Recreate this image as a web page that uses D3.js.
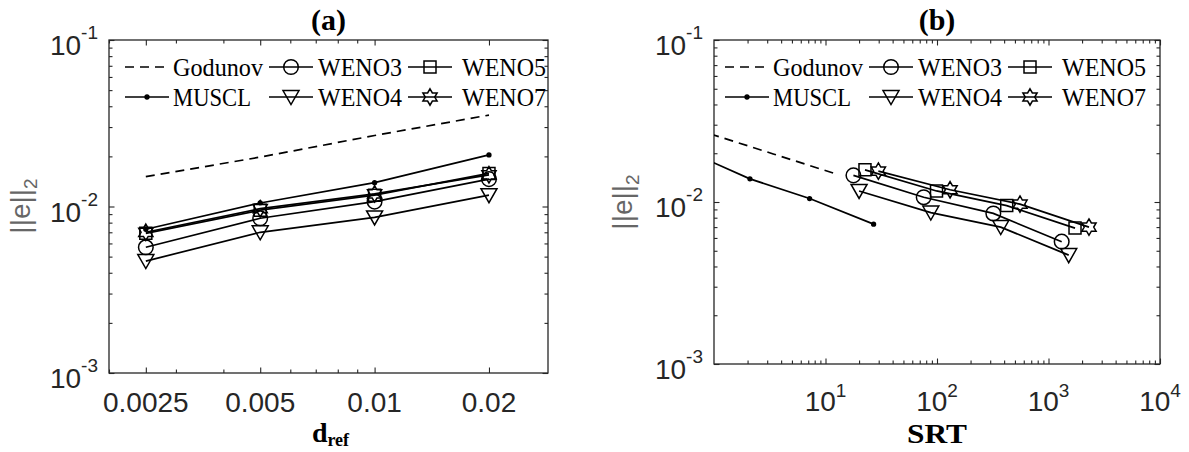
<!DOCTYPE html>
<html><head><meta charset="utf-8">
<script src="https://cdn.jsdelivr.net/npm/d3@7"></script>
<style>
html,body{margin:0;padding:0;background:#fff;}
svg{display:block;}
</style></head><body>
<svg id="fig" width="1189" height="452"></svg>
<script>
// Reference grid spacing (panel a abscissa)
const dRef = [0.0025, 0.005, 0.01, 0.02];

// L2 error of each scheme, ordered as dRef
const errGodunov = [0.0151, 0.0198, 0.0267, 0.0354];
const errMuscl   = [0.0073, 0.0105, 0.0139, 0.0204];
const errWeno3   = [0.00569, 0.0085, 0.0107, 0.0146];
const errWeno4   = [0.0047, 0.0070, 0.0086, 0.0117];
const errWeno5   = [0.0069, 0.0095, 0.0117, 0.0158];
const errWeno7   = [0.0070, 0.0097, 0.0119, 0.0155];

// SRT of each scheme, ordered as dRef (panel b abscissa)
const srtGodunov = [11.7, 3.4, 0.87, 0.25];
const srtMuscl   = [27, 7.2, 2.1, 0.6];
const srtWeno3   = [1313, 320, 76, 17.8];
const srtWeno4   = [1518, 373, 88, 20];
const srtWeno5   = [1729, 422, 99, 22.6];
const srtWeno7   = [2307, 555, 131, 29.8];

// Tick values and labels
const xTicksA = [0.0025, 0.005, 0.01, 0.02];
const xTickLabelsA = ["0.0025", "0.005", "0.01", "0.02"];
const xMinorA = [0.002, 0.003, 0.004, 0.006, 0.007, 0.008, 0.009];
const xTicksB = [10, 100, 1000, 10000];
const xTickExpB = ["1", "2", "3", "4"];
const yTicks = [0.001, 0.01, 0.1];
const yTickExp = ["-3", "-2", "-1"];

const series = [
  {name: "Godunov", marker: "none",     dash: "9,6", err: errGodunov, srt: srtGodunov},
  {name: "MUSCL",   marker: "dot",      dash: null,  err: errMuscl,   srt: srtMuscl},
  {name: "WENO3",   marker: "circle",   dash: null,  err: errWeno3,   srt: srtWeno3},
  {name: "WENO4",   marker: "triangle", dash: null,  err: errWeno4,   srt: srtWeno4},
  {name: "WENO5",   marker: "square",   dash: null,  err: errWeno5,   srt: srtWeno5},
  {name: "WENO7",   marker: "hexagram", dash: null,  err: errWeno7,   srt: srtWeno7}
];

const INK = "#262626";
const SERIF = "Liberation Serif, Times New Roman, serif";
const SANS = "Liberation Sans, Arial, sans-serif";
const svg = d3.select("#fig");

function markerPath(type) {
  if (type === "circle") {
    const r = 7.3;
    return `M${r},0A${r},${r},0,1,1,${-r},0A${r},${r},0,1,1,${r},0Z`;
  }
  if (type === "triangle") return "M-8,-6.5L8,-6.5L0,7.5Z";
  if (type === "square") return "M-6,-6L6,-6L6,6L-6,6Z";
  if (type === "hexagram") {
    const R = 8.2, r = R / Math.sqrt(3);
    const pts = d3.range(12).map(i => {
      const a = -Math.PI / 2 + i * Math.PI / 6;
      const rad = i % 2 === 0 ? R : r;
      return [rad * Math.cos(a), rad * Math.sin(a)];
    });
    return "M" + pts.map(p => p.join(",")).join("L") + "Z";
  }
  if (type === "dot") {
    const r = 1.9;
    return `M${r},0A${r},${r},0,1,1,${-r},0A${r},${r},0,1,1,${r},0Z`;
  }
  return null;
}

function drawMarker(g, type, cx, cy) {
  const d = markerPath(type);
  if (!d) return;
  g.append("path").attr("d", d)
    .attr("transform", `translate(${cx},${cy})`)
    .attr("fill", type === "dot" ? "#000" : "none")
    .attr("stroke", "#000").attr("stroke-width", 1.5);
}

function powerLabel(sel, exp, supDy) {
  sel.append("tspan").text("10");
  sel.append("tspan").attr("font-size", 19).attr("dy", supDy).text(exp);
}

function minorDecades(lo, hi) {
  const out = [];
  for (let e = Math.floor(Math.log10(lo)); e <= Math.ceil(Math.log10(hi)); e++) {
    for (let k = 2; k <= 9; k++) {
      const v = k * Math.pow(10, e);
      if (v >= lo && v <= hi) out.push(v);
    }
  }
  return out;
}

function panel(cfg) {
  const {left, right, top, bottom} = cfg;
  const w = right - left, h = bottom - top;
  const g = svg.append("g").attr("transform", `translate(${left},${top})`);
  const x = d3.scaleLog().domain(cfg.xDomain).range([0, w]);
  const y = d3.scaleLog().domain([0.001, 0.1]).range([h, 0]);
  const yMinor = minorDecades(0.001, 0.1);

  const clipId = "clip-" + cfg.id;
  g.append("clipPath").attr("id", clipId)
    .append("rect").attr("width", w).attr("height", h);

  // Inward ticks on all four sides
  const tickAxes = [
    [d3.axisBottom(x), `translate(0,${h})`, cfg.xMajor, cfg.xMinor],
    [d3.axisTop(x), null, cfg.xMajor, cfg.xMinor],
    [d3.axisLeft(y), null, yTicks, yMinor],
    [d3.axisRight(y), `translate(${w},0)`, yTicks, yMinor]
  ];
  tickAxes.forEach(([ax, tr, major, minor]) => {
    [[major, 5.5], [minor, 3.5]].forEach(([vals, len]) => {
      const a = g.append("g");
      if (tr) a.attr("transform", tr);
      a.call(ax.tickValues(vals).tickSize(-len).tickFormat(""));
      a.select(".domain").remove();
      a.selectAll(".tick line").attr("stroke", INK).attr("stroke-width", 1.1);
    });
  });

  g.append("rect").attr("width", w).attr("height", h)
    .attr("fill", "none").attr("stroke", INK).attr("stroke-width", 1.3);

  // y tick labels
  yTicks.forEach((v, i) => {
    const t = g.append("text")
      .attr("x", -11).attr("y", y(v) + 15)
      .attr("text-anchor", "end")
      .attr("font-family", SANS)
      .attr("font-size", 28).attr("fill", INK);
    powerLabel(t, yTickExp[i], -16);
  });

  // x tick labels
  cfg.xLabels(g, x, h);

  // Series
  const plot = g.append("g").attr("clip-path", `url(#${clipId})`);
  series.forEach(s => {
    const xs = cfg.xOf(s);
    const pts = xs.map((xv, i) => [x(xv), y(s.err[i])]);
    plot.append("path")
      .attr("d", d3.line()(pts))
      .attr("fill", "none").attr("stroke", "#000")
      .attr("stroke-width", 1.7)
      .attr("stroke-dasharray", s.dash);
    pts.forEach(p => drawMarker(plot, s.marker, p[0], p[1]));
  });

  // Legend: 3 columns x 2 rows
  const lg = g.append("g").attr("transform", `translate(${cfg.legendX},0)`);
  const colX = [0, 144, 283];
  const textX = [48, 193, 337];
  const rowY = [27, 57];
  series.forEach((s, i) => {
    const c = Math.floor(i / 2), r = i % 2;
    const ly = rowY[r];
    lg.append("line")
      .attr("x1", colX[c]).attr("x2", colX[c] + 44)
      .attr("y1", ly).attr("y2", ly)
      .attr("stroke", "#000").attr("stroke-width", 1.7)
      .attr("stroke-dasharray", s.dash);
    drawMarker(lg, s.marker, colX[c] + 22, ly);
    lg.append("text")
      .attr("x", textX[c]).attr("y", ly + 8.5)
      .attr("font-family", SERIF)
      .attr("font-size", 25.5).attr("fill", "#000")
      .attr("textLength", cfg.legendTextLen[i])
      .attr("lengthAdjust", "spacingAndGlyphs")
      .text(s.name);
  });

  // Title
  g.append("text")
    .attr("x", w / 2).attr("y", -10)
    .attr("text-anchor", "middle")
    .attr("font-family", SERIF)
    .attr("font-weight", "bold").attr("font-size", 30)
    .attr("fill", "#000").text(cfg.title);

  // y axis label
  const yl = g.append("text")
    .attr("transform", `translate(${cfg.yLabelX},${cfg.yLabelY}) rotate(-90)`)
    .attr("text-anchor", "middle")
    .attr("font-family", SANS)
    .attr("font-size", 28).attr("fill", "#666");
  yl.append("tspan").text("||e||");
  yl.append("tspan").attr("font-size", 19).attr("dy", 7).text("2");

  cfg.xTitle(g, w, h);
}

// widths of legend entries, in legend order
const legendWidths = [90, 78, 84, 84, 84, 84];

panel({
  id: "a", left: 109, right: 548, top: 40, bottom: 373,
  xDomain: [0.002, 0.0286],
  xMajor: xTicksA, xMinor: xMinorA,
  xOf: s => dRef,
  legendX: 16, legendTextLen: legendWidths,
  title: "(a)",
  yLabelX: -79, yLabelY: 166,
  xLabels: (g, x, h) => {
    xTicksA.forEach((v, i) => {
      g.append("text").attr("x", x(v)).attr("y", h + 39)
        .attr("text-anchor", "middle")
        .attr("font-family", SANS)
        .attr("font-size", 28).attr("fill", INK)
        .text(xTickLabelsA[i]);
    });
  },
  xTitle: (g, w, h) => {
    const t = g.append("text").attr("x", w / 2 + 2).attr("y", h + 69)
      .attr("text-anchor", "middle")
      .attr("font-family", SERIF)
      .attr("font-weight", "bold").attr("font-size", 28).attr("fill", "#000");
    t.append("tspan").text("d");
    t.append("tspan").attr("font-size", 18).attr("dy", 4).text("ref");
  }
});

panel({
  id: "b", left: 714, right: 1160, top: 40, bottom: 364,
  xDomain: [1, 10000],
  xMajor: xTicksB, xMinor: minorDecades(1, 10000),
  xOf: s => s.srt,
  legendX: 11, legendTextLen: legendWidths,
  title: "(b)",
  yLabelX: -82, yLabelY: 162,
  xLabels: (g, x, h) => {
    xTicksB.forEach((v, i) => {
      const t = g.append("text").attr("x", x(v)).attr("y", h + 47)
        .attr("text-anchor", "middle")
        .attr("font-family", SANS)
        .attr("font-size", 28).attr("fill", INK);
      powerLabel(t, xTickExpB[i], -14);
    });
  },
  xTitle: (g, w, h) => {
    g.append("text").attr("x", w / 2).attr("y", h + 79)
      .attr("text-anchor", "middle")
      .attr("font-family", SERIF)
      .attr("font-weight", "bold").attr("font-size", 28).attr("fill", "#000")
      .attr("textLength", 60).attr("lengthAdjust", "spacingAndGlyphs")
      .text("SRT");
  }
});
</script>
</body></html>
